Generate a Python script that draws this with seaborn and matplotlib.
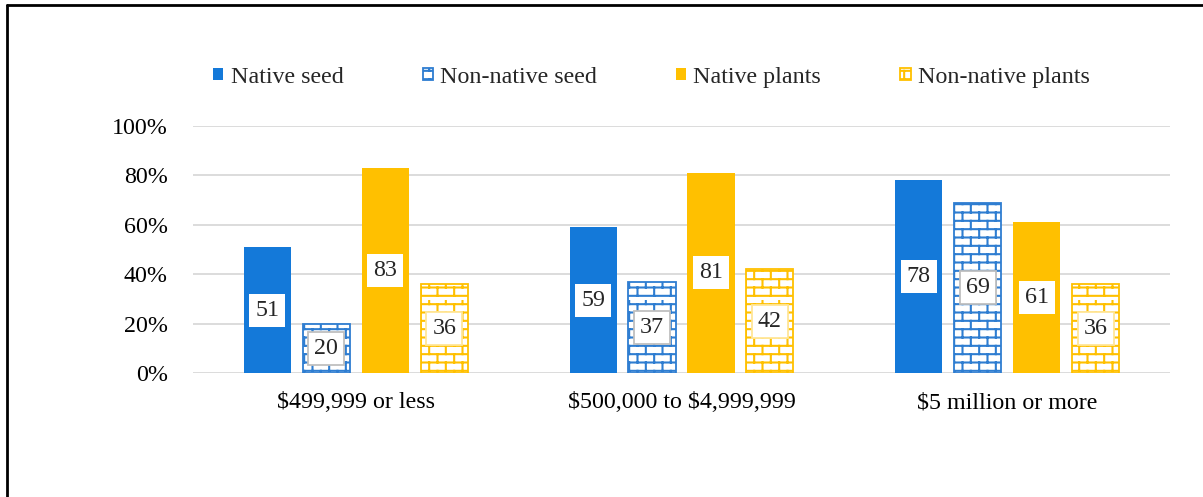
import numpy as np
import pandas as pd
import matplotlib
matplotlib.use('Agg')
import matplotlib.pyplot as plt
import matplotlib.hatch as mhatch
from matplotlib.path import Path
from matplotlib.lines import Line2D
import seaborn as sns

# values (percent)
sizes = ['$499,999 or less', '$500,000 to $4,999,999', '$5 million or more']
series = ['Native seed', 'Non-native seed', 'Native plants', 'Non-native plants']
native_seed = [51, 59, 78]
non_native_seed = [20, 37, 69]
native_plants = [83, 81, 61]
non_native_plants = [36, 42, 36]
y_ticks = [0, 20, 40, 60, 80, 100]

BLUE = '#1479D9'
BLUE_EDGE = '#2E7DD1'
YELLOW = '#FFC000'
FS = 17.3


# brick hatch: matplotlib has no such pattern, so register one ('b')
class BrickHatch(mhatch.HatchPatternBase):
    rows = 12
    cols = 6

    def __init__(self, hatch, density):
        on = 'b' in hatch
        self.num_vertices = 2 * (self.rows + self.rows * self.cols) if on else 0

    def set_vertices_and_codes(self, vertices, codes):
        segs = []
        for k in range(self.rows):
            y0 = (k + 0.5) / self.rows
            y1 = (k + 1.5) / self.rows
            segs.append(((0, y0), (1, y0)))
            off = 0.25 + 0.5 * (k % 2)
            for j in range(self.cols):
                x = (j + off) / self.cols
                segs.append(((x, y0), (x, y1)))
        for i, (a, b) in enumerate(segs):
            vertices[2 * i] = a
            vertices[2 * i + 1] = b
            codes[2 * i] = Path.MOVETO
            codes[2 * i + 1] = Path.LINETO


mhatch._hatch_types.append(BrickHatch)
mhatch._validate_hatch_pattern = lambda h: None

df = pd.DataFrame({
    'size': sizes * 4,
    'type': np.repeat(series, len(sizes)),
    'pct': native_seed + non_native_seed + native_plants + non_native_plants,
})

sns.set_style('white')
plt.rcParams['font.family'] = ['Liberation Serif', 'DejaVu Serif']
plt.rcParams['text.parse_math'] = False
plt.rcParams['hatch.linewidth'] = 1.5

fig = plt.figure(figsize=(12.03, 4.97), dpi=100)
ax = fig.add_axes([193 / 1203, 1 - 373 / 497, 977 / 1203, 247 / 497])

palette = {'Native seed': BLUE, 'Non-native seed': 'white',
           'Native plants': YELLOW, 'Non-native plants': 'white'}
sns.barplot(data=df, x='size', y='pct', hue='type', order=sizes,
            hue_order=series, palette=palette, saturation=1,
            width=0.724, gap=0.2, errorbar=None, legend=False, ax=ax)

styles = [
    dict(fc=BLUE, ec='none', hatch=None, lbl_ec='none'),
    dict(fc='white', ec=BLUE_EDGE, hatch='b', lbl_ec='#BFBFBF'),
    dict(fc=YELLOW, ec='none', hatch=None, lbl_ec='none'),
    dict(fc='white', ec=YELLOW, hatch='b', lbl_ec='#FFE699'),
]
for cont, st in zip(ax.containers, styles):
    for bar in cont:
        bar.set_facecolor(st['fc'])
        bar.set_edgecolor(st['ec'])
        bar.set_linewidth(1.3)
        if st['hatch']:
            bar.set_hatch(st['hatch'])
    ax.bar_label(cont, fmt='%d', label_type='center', fontsize=FS,
                 bbox=dict(boxstyle='square,pad=0.25', fc='white',
                           ec=st['lbl_ec'], lw=1.3))

ax.set_ylim(0, 100)
ax.set_xlim(-0.5, 2.5)
ax.set_yticks(y_ticks)
ax.set_yticklabels([f'{v}%' for v in y_ticks])
ax.set_xlabel('')
ax.set_ylabel('')
ax.yaxis.grid(True, color='#D9D9D9', lw=1.3)
ax.set_axisbelow(True)
for s in ax.spines.values():
    s.set_visible(False)
ax.tick_params(axis='y', length=0, pad=18, labelsize=FS, labelcolor='black')
ax.tick_params(axis='x', length=0, pad=14, labelsize=FS, labelcolor='black')

handles = [cont[0] for cont in ax.containers]
fig.legend(handles, series, loc='center', bbox_to_anchor=(0.5415, 0.845),
           ncol=4, frameon=False, fontsize=FS, handlelength=0.42,
           handleheight=0.42, handletextpad=0.3, columnspacing=3.3)

# partial frame (top and left edges of the original chart border)
fig.add_artist(Line2D([7 / 1203, 7 / 1203], [0, 1 - 5 / 497],
                      transform=fig.transFigure, color='black', lw=2))
fig.add_artist(Line2D([7 / 1203, 1], [1 - 5 / 497, 1 - 5 / 497],
                      transform=fig.transFigure, color='black', lw=2))

fig.savefig('out.png', dpi=100)
